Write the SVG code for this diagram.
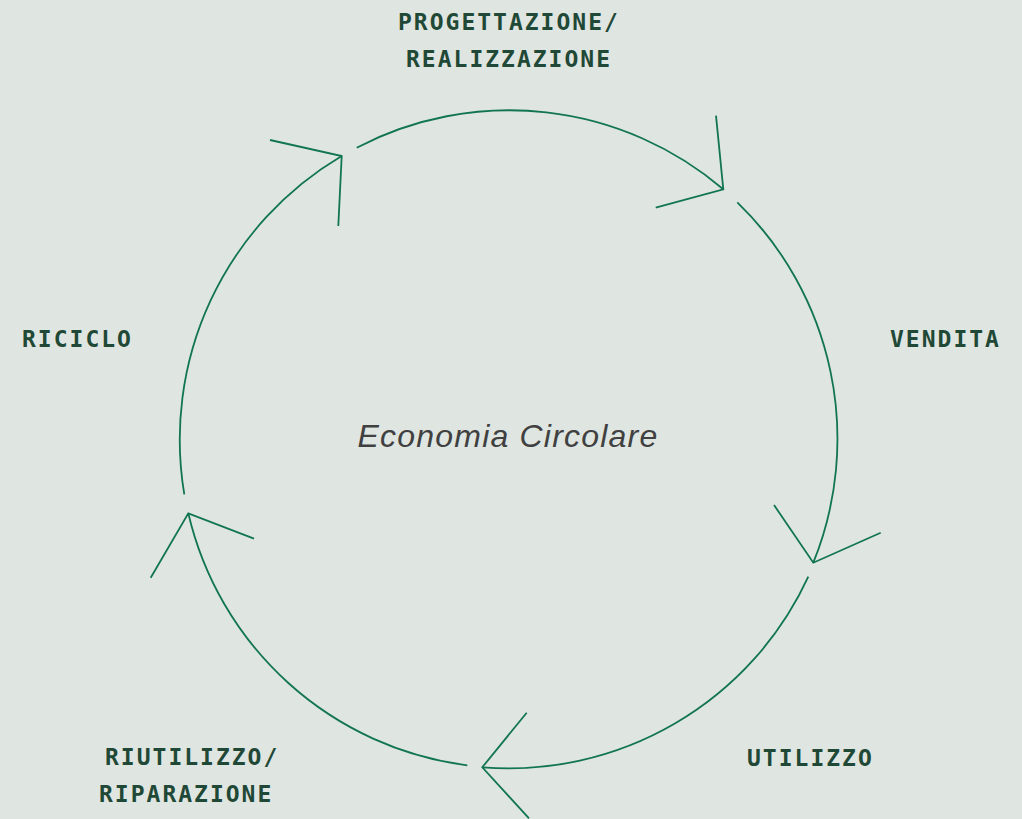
<svg xmlns="http://www.w3.org/2000/svg" width="1022" height="819" viewBox="0 0 1022 819">
<style>
.bg{fill:#dfe5e0}
.ln{fill:none;stroke:#117553;stroke-width:1.8;stroke-linejoin:miter;stroke-linecap:butt}
.lbl{font-family:"DejaVu Sans Mono","Liberation Mono",monospace;font-size:23px;font-weight:bold;fill:#1f4836;letter-spacing:2.0px}
.ctr{font-family:"Liberation Sans",Arial,sans-serif;font-style:italic;font-size:32px;fill:#404040;letter-spacing:1.2px}
</style>
<rect class="bg" x="0" y="0" width="1022" height="819"/>
<g id="connectors">
<path class="ln" d="M356.7,147.7 A329.5,329.5 0 0 1 723.3,189.3"/>
<path class="ln" d="M737.3,202.3 A329.5,329.5 0 0 1 813.3,562.7"/>
<path class="ln" d="M808.3,576.7 A329.5,329.5 0 0 1 482.3,767.3"/>
<path class="ln" d="M467.3,765.3 A329.5,329.5 0 0 1 188.3,513.3"/>
<path class="ln" d="M184.3,494.3 A329.5,329.5 0 0 1 341.7,156"/>
<polyline class="ln" points="270,140 341.7,156 338.3,226"/>
<polyline class="ln" points="716,115.7 723.3,189.3 655.7,207.7"/>
<polyline class="ln" points="774,505 813.3,562.7 880.7,532.7"/>
<polyline class="ln" points="254,538.7 188.3,513.3 150.7,577.7"/>
<polyline class="ln" points="526.7,712.7 482.3,767.3 529,818.3"/>
</g>
<g id="node-progettazione">
<text class="lbl" x="398" y="29.5">PROGETTAZIONE/</text>
<text class="lbl" x="406" y="67">REALIZZAZIONE</text>
</g>
<g id="node-vendita">
<text class="lbl" x="890" y="347">VENDITA</text>
</g>
<g id="node-utilizzo">
<text class="lbl" x="747" y="766">UTILIZZO</text>
</g>
<g id="node-riutilizzo">
<text class="lbl" x="105" y="765">RIUTILIZZO/</text>
<text class="lbl" x="99" y="802">RIPARAZIONE</text>
</g>
<g id="node-riciclo">
<text class="lbl" x="22" y="347">RICICLO</text>
</g>
<g id="center">
<text class="ctr" x="508" y="447" text-anchor="middle">Economia Circolare</text>
</g>
</svg>
